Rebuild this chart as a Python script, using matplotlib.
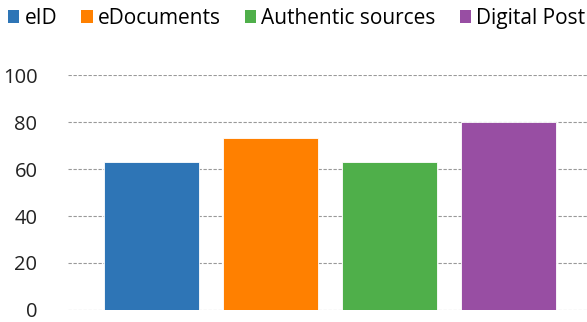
import matplotlib.pyplot as plt
from matplotlib.patches import Patch

categories = ["eID", "eDocuments", "Authentic sources", "Digital Post"]
values = [63, 73, 63, 80]
colors = ["#2E75B6", "#FF8000", "#4FAF4A", "#984EA3"]
yticks = [0, 20, 40, 60, 80, 100]

plt.rcParams['font.family'] = ['Open Sans', 'DejaVu Sans']

fig = plt.figure(figsize=(5.87, 3.22), dpi=100)
ax = fig.add_axes([0.1158, 0.0373, 0.8842, 0.7297])

x = range(len(categories))
ax.bar(x, values, 0.8, color=colors, edgecolor="white", linewidth=0.6, zorder=3)

ax.set_ylim(0, 100)
ax.set_xlim(-0.70, 3.66)
ax.set_yticks(yticks)
ax.set_yticklabels([str(t) for t in yticks], fontsize=14.5, color="#222222")
ax.set_xticks([])
ax.tick_params(axis="y", length=0, pad=22)
for s in ax.spines.values():
    s.set_visible(False)
ax.grid(True, axis="y", color="#999999", linestyle=(0, (3, 1.5)), linewidth=0.8, zorder=0)
ax.set_axisbelow(True)

handles = [Patch(facecolor=c, edgecolor="none") for c in colors]
fig.legend(handles, categories, loc="upper left", bbox_to_anchor=(0.008, 0.985),
           ncol=4, frameon=False, fontsize=15, handlelength=0.55, handleheight=0.55,
           handletextpad=0.25, columnspacing=1.15, borderaxespad=0, borderpad=0.15)

fig.savefig("out.png", dpi=100)
